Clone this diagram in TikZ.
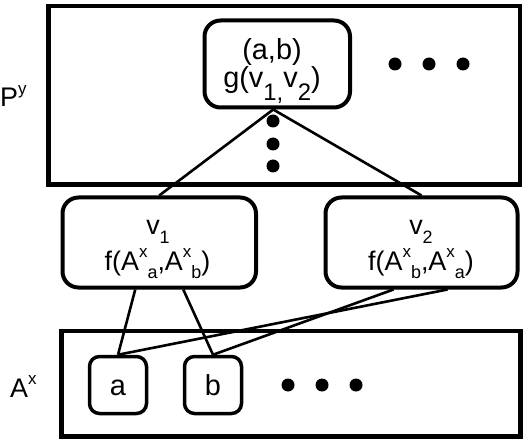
\documentclass[tikz,border=0pt]{standalone}
\usepackage{fontspec}
\setmainfont{Liberation Sans}
\usetikzlibrary{calc}
\newcommand\mysup[1]{\raisebox{0.48em}{\fontsize{17}{17}\selectfont #1}}
\newcommand\mysub[1]{\raisebox{-0.3em}{\fontsize{18}{18}\selectfont #1}}
\newcommand\mysubb[1]{\raisebox{-0.42em}{\fontsize{24}{24}\selectfont #1}}
\newcommand\tightfont{\fontsize{29}{28bp}\selectfont\lineskiplimit -20pt\relax}
\begin{document}
\begin{tikzpicture}[x=1bp,y=-1bp,
  outer/.style={draw, line width=4.5bp, inner sep=0pt},
  rbox/.style={draw, line width=4bp, rounded corners=16bp, inner sep=0pt},
  sbox/.style={draw, line width=3.5bp, rounded corners=10bp, inner sep=0pt, minimum size=57bp,
    text height=20bp, text depth=0bp, font=\fontsize{29}{34}\selectfont},
  conn/.style={line width=2.6bp},
  dot/.style={circle, fill, inner sep=0pt, minimum size=13bp},
  lbl/.style={inner sep=0pt, anchor=base, font=\fontsize{27}{32}\selectfont},
  twolines/.style={inner sep=0pt, align=center, font=\tightfont}
]
\useasboundingbox (0,0) rectangle (524,440);
% outer frames
\node[outer, minimum width=471bp, minimum height=178.5bp] (P) at (284.25,95.25) {};
\node[outer, minimum width=459bp, minimum height=105.5bp] (A) at (291,383.75) {};
% side labels
\node[lbl, anchor=base west] (Plbl) at (0,107) {P\mysup{y}};
\node[lbl, anchor=base west] (Albl) at (10,397) {A\mysup{x}};
% top box
\node[rbox, minimum width=145.5bp, minimum height=87bp] (g) at (277.25,64) {};
\node[twolines, anchor=base] (gt) at (272,88) {(a,b)\\g(v\mysubb{1,}v\mysubb{2})};
% dots in P
\node[dot] (pd1) at (395,64) {};
\node[dot] (pd2) at (429,64) {};
\node[dot] (pd3) at (463,64) {};
\node[dot] (vd1) at (273,121) {};
\node[dot] (vd2) at (273,144) {};
\node[dot] (vd3) at (273,166) {};
% v boxes
\node[rbox, minimum width=193.5bp, minimum height=90bp] (v1) at (159.25,242.5) {};
\node[lbl] (v1t1) at (158,235) {v\mysub{1}};
\node[lbl] (v1t2) at (157.5,270) {f(A\mysup{x}\mysub{a},A\mysup{x}\mysub{b})};
\node[rbox, minimum width=192bp, minimum height=90bp] (v2) at (421.5,242.5) {};
\node[lbl] (v2t1) at (421,235) {v\mysub{2}};
\node[lbl] (v2t2) at (421,270) {f(A\mysup{x}\mysub{b},A\mysup{x}\mysub{a})};
% small boxes
\node[sbox] (a) at (118,385) {a};
\node[sbox] (b) at (213,385) {b};
\node[dot] (ad1) at (288,385) {};
\node[dot] (ad2) at (322,385) {};
\node[dot] (ad3) at (356,385) {};
% connectors
\draw[conn] ($(g.south)+(-4,0)$) -- (v1.north);
\draw[conn] ($(g.south)+(-4,0)$) -- (v2.north);
\draw[conn] ($(v1.south)+(-24,0)$) -- (a.north);
\draw[conn] ($(v1.south)+(24,0)$) -- (b.north);
\draw[conn] ($(v2.south)+(-28,0)$) -- (b.north);
\draw[conn] ($(v2.south)+(26,0)$) -- (a.north);
\end{tikzpicture}
\end{document}
